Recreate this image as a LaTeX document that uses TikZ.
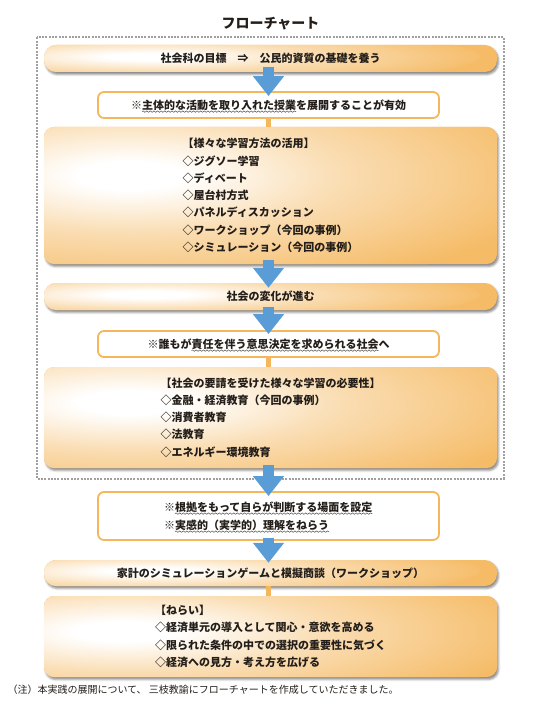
\documentclass[tikz,border=0pt]{standalone}
\usepackage{fontspec}
\setmainfont{Noto Sans CJK JP}
\usetikzlibrary{shadows.blur,arrows.meta,calc,decorations.pathmorphing}
\definecolor{boxor}{RGB}{245,187,102}
\definecolor{lineor}{RGB}{245,183,92}
\definecolor{arrblue}{RGB}{90,157,214}
\definecolor{framegray}{RGB}{160,160,160}
\definecolor{txt}{RGB}{35,30,25}
\pgfdeclareradialshading{glowsh}{\pgfpoint{0bp}{0bp}}{color(0bp)=(white); color(3bp)=(white); color(12bp)=(boxor!50!white); color(25bp)=(boxor); color(50bp)=(boxor)}
\tikzset{
  boxtext/.style={text=txt, font=\bfseries\fontsize{11}{17.3}\selectfont, align=left},
  gradbox/.style={boxtext, rounded corners=#1, fill=boxor, minimum width=453pt, inner sep=0pt,
     blur shadow={shadow xshift=1.5pt, shadow yshift=-2.5pt, shadow blur radius=2pt, shadow opacity=45}},
  glow/.style n args={3}{path picture={\shade[shading=glowsh] ([xshift=#1,yshift=#2]path picture bounding box.west) ellipse (#3);}},
  wbox/.style={rounded corners=6pt, draw=lineor, line width=1.8pt, fill=white, minimum width=341pt, inner sep=0pt},
  seg/.style={text=txt, font=\bfseries\fontsize{11}{13}\selectfont, inner sep=0pt, outer sep=0pt, anchor=base west},
  wave/.style={txt!80, line width=0.5pt, decorate, decoration={snake, amplitude=0.75pt, segment length=3.6pt}},
  conn/.style={lineor, line width=4.5pt},
  barrow/.style={arrblue, line width=11pt, -{Triangle[length=20pt,width=30pt]}},
  frame/.style={framegray, line width=2pt, dash pattern=on 2pt off 1.3pt}
}
\begin{document}
\begin{tikzpicture}[x=1pt,y=-1pt]
\useasboundingbox (0,0) rectangle (540,711);
\node[text=txt, font=\bfseries\fontsize{14}{16}\selectfont] (title) at (270.5,23.5) {フローチャート};
\draw[frame] (36.5,37.5) rectangle (503.5,478.5);

\node[gradbox=12pt, glow={96pt}{2pt}{340pt and 30pt}, minimum height=27pt] (b1) at (270.5,58.5) {社会科の目標　⇒　公民的資質の基礎を養う};

\node[wbox, minimum height=26pt] (b2) at (268.5,105) {};
\node[seg] (b2a) at (131,109.2) {※};
\node[seg] (b2u) at (b2a.base east) {主体的な活動を取り入れた授業};
\node[seg] (b2c) at (b2u.base east) {を展開することが有効};
\draw[wave] ([yshift=-2.4pt]b2u.base west) -- ([yshift=-2.4pt]b2u.base east);

\node[gradbox=10pt, glow={86pt}{20pt}{440pt and 120pt}, minimum height=137pt] (b3) at (270.5,195.5) {【様々な学習方法の活用】\\◇ジグソー学習\\◇ディベート\\◇屋台村方式\\◇パネルディスカッション\\◇ワークショップ（今回の事例）\\◇シミュレーション（今回の事例）};
\node[gradbox=12pt, glow={96pt}{2pt}{340pt and 30pt}, minimum height=27pt] (b4) at (270.5,296.5) {社会の変化が進む};

\node[wbox, minimum height=26pt] (b5) at (268.5,344) {};
\node[seg] (b5a) at (147.5,348.2) {※誰もが};
\node[seg] (b5u) at (b5a.base east) {責任を伴う意思決定を求められる社会};
\node[seg] (b5c) at (b5u.base east) {へ};
\draw[wave] ([yshift=-2.4pt]b5u.base west) -- ([yshift=-2.4pt]b5u.base east);

\node[gradbox=10pt, glow={86pt}{15pt}{440pt and 100pt}, minimum height=101pt] (b6) at (270.5,417.5) {【社会の要請を受けた様々な学習の必要性】\\◇金融・経済教育（今回の事例）\\◇消費者教育\\◇法教育\\◇エネルギー環境教育};

\node[wbox, minimum height=48pt] (b7) at (268.5,516) {};
\node[seg] (b7a) at (164,511.2) {※};
\node[seg] (b7u) at (b7a.base east) {根拠をもって自らが判断する場面を設定};
\node[seg] (b7b) at (164,529.2) {※};
\node[seg] (b7v) at (b7b.base east) {実感的（実学的）理解をねらう};
\draw[wave] ([yshift=-2.4pt]b7u.base west) -- ([yshift=-2.4pt]b7u.base east);
\draw[wave] ([yshift=-2.4pt]b7v.base west) -- ([yshift=-2.4pt]b7v.base east);

\node[gradbox=12pt, glow={96pt}{2pt}{340pt and 30pt}, minimum height=26pt] (b8) at (270.5,573) {家計のシミュレーションゲームと模擬商談（ワークショップ）};
\node[gradbox=10pt, glow={80pt}{5pt}{420pt and 85pt}, minimum height=81pt] (b9) at (270.5,636.5) {【ねらい】\\◇経済単元の導入として関心・意欲を高める\\◇限られた条件の中での選択の重要性に気づく\\◇経済への見方・考え方を広げる};
\node[anchor=west, text=txt, font=\fontsize{10}{12}\selectfont] (note) at (4,690) {（注）本実践の展開について、 三枝教諭にフローチャートを作成していただきました。};

\draw[conn] (b2.south) -- (b2.south |- b3.north);
\draw[conn] (b5.south) -- (b5.south |- b6.north);
\draw[conn] (b8.south -| b5.south) -- (b9.north -| b5.south);

\draw[barrow] ($(b1.south -| b2.north)+(0,-5)$) -- ($(b2.north)+(0,5)$);
\draw[barrow] ($(b3.south -| b5.north)+(0,-4)$) -- ($(b4.north -| b5.north)+(0,5)$);
\draw[barrow] ($(b4.south -| b5.north)+(0,-3)$) -- ($(b5.north)+(0,4)$);
\draw[barrow] ($(b6.south -| b7.north)+(0,-3)$) -- ($(b7.north)+(0,5)$);
\draw[barrow] ($(b7.south)+(0,-3)$) -- ($(b8.north -| b7.south)+(0,3)$);
\end{tikzpicture}
\end{document}
